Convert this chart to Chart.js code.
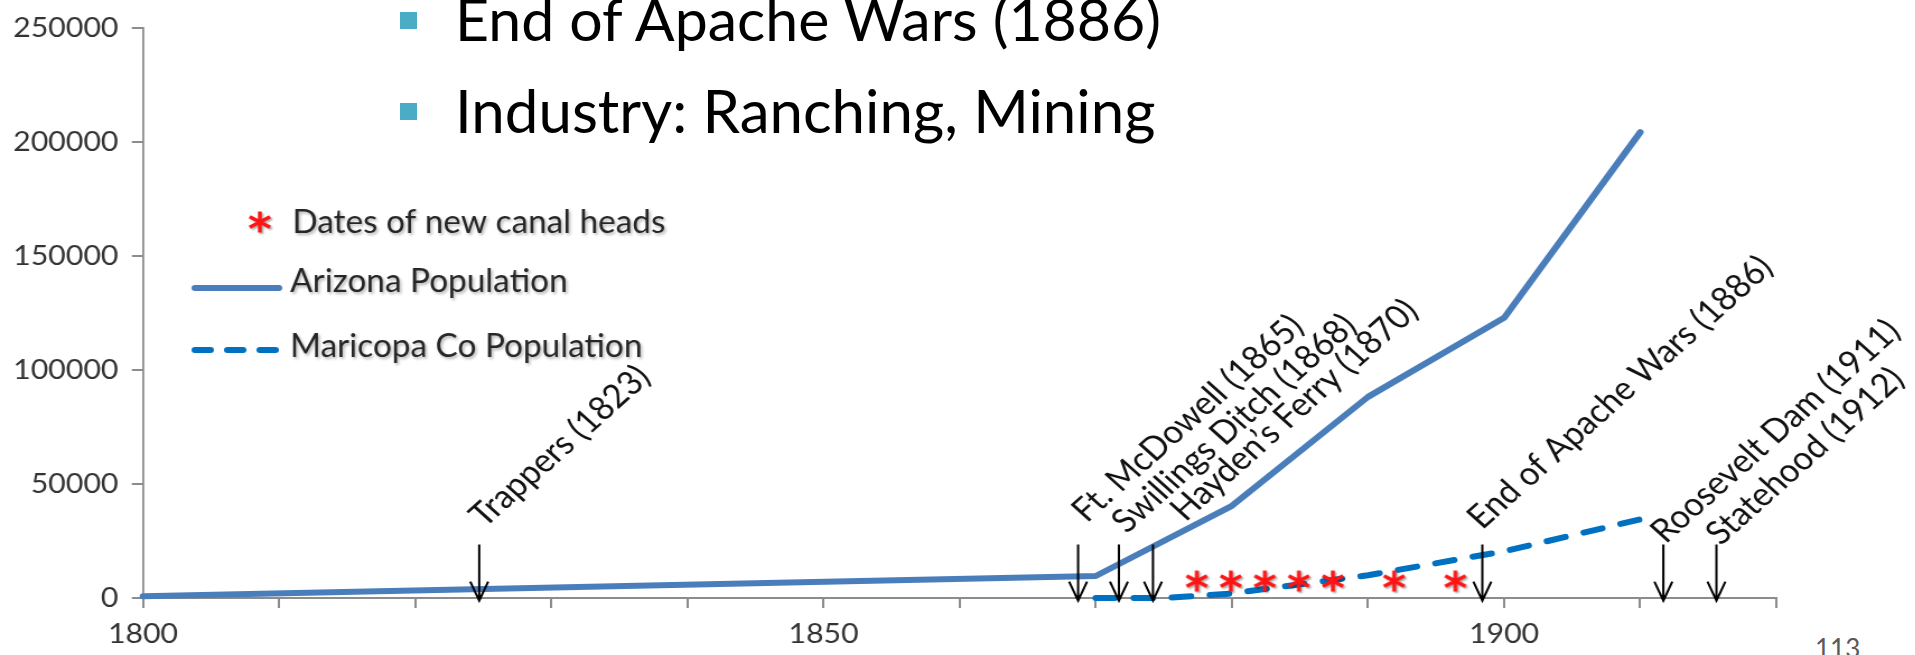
<!DOCTYPE html>
<html lang="en">
<head>
<meta charset="UTF-8">
<title>Arizona and Maricopa County Population</title>
<script src="https://cdn.jsdelivr.net/npm/chart.js"></script>
<style>
    html, body {
        margin: 0;
        padding: 0;
        background: #fff;
        overflow: hidden;
    }
    body {
        position: relative;
        width: 1915px;
        height: 655px;
        font-family: Lato, 'Open Sans', sans-serif;
    }
    /* the chart picture is widened a little, like a pasted image */
    .stretch {
        position: absolute;
        left: 0;
        top: 0;
        width: 1710px;
        height: 655px;
        transform: scaleX(1.12);
        transform-origin: 0 0;
    }
    .bullet {
        position: absolute;
        left: 455px;
        font-size: 60px;
        line-height: 60px;
        color: #000;
        white-space: nowrap;
        z-index: 2;
    }
    .bullet::before {
        content: '';
        position: absolute;
        left: -55px;
        top: 23px;
        width: 17px;
        height: 17px;
        background: #4bacc6;
    }
    .page {
        position: absolute;
        left: 1815px;
        top: 635px;
        font-size: 26px;
        line-height: 26px;
        color: #595959;
    }
</style>
</head>
<body>
    <div class="bullet" style="top:-11px; font-size:59px">End of Apache Wars (1886)</div>
    <div class="bullet" style="top:80px">Industry: Ranching, Mining</div>
    <div class="page">113</div>
    <div class="stretch"><canvas id="popChart"></canvas></div>
<script>
    // population figures
    const azYears = [1800, 1870, 1880, 1890, 1900, 1910];
    const azPop = [800, 9658, 40440, 88243, 122931, 204354];
    const mcYears = [1870, 1875, 1880, 1890, 1900, 1910];
    const mcPop = [0, 0, 2000, 10000, 20500, 34500];

    // new canal heads, all shown at one height
    const canalYears = [1877.5, 1880, 1882.5, 1885, 1887.5, 1892, 1896.5];
    const canalLevel = 7000;

    // events marked with arrows along the time axis
    const eventNames = ['Trappers (1823)', 'Ft. McDowell (1865)', 'Swillings Ditch (1868)',
        'Hayden\u2019s Ferry (1870)', 'End of Apache Wars (1886)', 'Roosevelt Dam (1911)', 'Statehood (1912)'];
    const eventAt = [1824.7, 1868.7, 1871.7, 1874.2, 1898.4, 1911.7, 1915.6];

    const xLabelYears = [1800, 1850, 1900];

    // hand placement of each caption relative to its arrow (px)
    const captionShift = [[0, -6], [3, -11], [2, 0], [24, -12], [-5, -4], [-3, 10], [-1, 12]];

    Chart.defaults.font.family = 'Lato';

    function makeAsterisk() {
        const c = document.createElement('canvas');
        c.width = 30;
        c.height = 30;
        const g = c.getContext('2d');
        g.strokeStyle = '#ff1414';
        g.lineWidth = 3.4;
        g.shadowColor = 'rgba(0,0,0,0.35)';
        g.shadowBlur = 2;
        g.shadowOffsetX = 1.5;
        g.shadowOffsetY = 1.5;
        const cx = 14, cy = 14, r = 10.5;
        g.beginPath();
        [90, 30, -30].forEach(a => {
            const t = a * Math.PI / 180;
            g.moveTo(cx - r * Math.cos(t), cy - r * Math.sin(t));
            g.lineTo(cx + r * Math.cos(t), cy + r * Math.sin(t));
        });
        g.stroke();
        return c;
    }
    const asterisk = makeAsterisk();

    const extras = {
        id: 'extras',
        afterDatasetsDraw(chart) {
            const ctx = chart.ctx;
            const xs = chart.scales.x, ys = chart.scales.y;
            const top = ys.getPixelForValue(23500);
            const tip = ys.getPixelForValue(-1200);

            // arrows and their slanted captions
            ctx.save();
            ctx.strokeStyle = '#000';
            ctx.lineWidth = 2;
            ctx.fillStyle = '#111';
            ctx.font = '33px Lato';
            eventAt.forEach((yr, i) => {
                const x = xs.getPixelForValue(yr);
                ctx.beginPath();
                ctx.moveTo(x, top);
                ctx.lineTo(x, tip);
                ctx.moveTo(x - 8, tip - 19);
                ctx.lineTo(x, tip);
                ctx.lineTo(x + 8, tip - 19);
                ctx.stroke();

                const [dx, dy] = captionShift[i];
                ctx.save();
                ctx.translate(x + 5 + dx, top - 10 + dy);
                ctx.rotate(-Math.PI / 4);
                ctx.scale(0.93, 1);
                ctx.fillText(eventNames[i], 0, 0);
                ctx.restore();
            });
            ctx.restore();

            // legend
            const ds = chart.data.datasets;
            ctx.save();
            ctx.drawImage(asterisk, 232 - 14, 222 - 14);

            ctx.lineWidth = 6;
            ctx.lineCap = 'round';
            ctx.strokeStyle = ds[1].borderColor;
            ctx.beginPath();
            ctx.moveTo(174, 288);
            ctx.lineTo(249, 288);
            ctx.stroke();

            ctx.strokeStyle = ds[2].borderColor;
            ctx.setLineDash([14, 15]);
            ctx.beginPath();
            ctx.moveTo(174, 350);
            ctx.lineTo(249, 350);
            ctx.stroke();
            ctx.setLineDash([]);

            ctx.font = '32px Lato';
            ctx.fillStyle = '#262626';
            ctx.shadowColor = 'rgba(0,0,0,0.3)';
            ctx.shadowBlur = 3;
            ctx.shadowOffsetX = 1.5;
            ctx.shadowOffsetY = 1.5;
            [[233, 0], [292, 1], [357, 2]].forEach(([y, k]) => {
                ctx.save();
                ctx.translate(k === 0 ? 261 : 259, y);
                ctx.scale(0.93, 1);
                ctx.fillText(ds[k].label, 0, 0);
                ctx.restore();
            });
            ctx.restore();
        }
    };

    const axisGray = '#8c8c8c';

    new Chart(document.getElementById('popChart'), {
        type: 'line',
        data: {
            datasets: [
                {
                    label: 'Dates of new canal heads',
                    data: canalYears.map(x => ({ x, y: canalLevel })),
                    showLine: false,
                    pointStyle: asterisk,
                    pointRadius: 10,
                    order: 0
                },
                {
                    label: 'Arizona Population',
                    data: azYears.map((x, i) => ({ x, y: azPop[i] })),
                    borderColor: '#4a7ebb',
                    borderWidth: 6,
                    borderJoinStyle: 'round',
                    borderCapStyle: 'round',
                    pointRadius: 0,
                    clip: false,
                    order: 1
                },
                {
                    label: 'Maricopa Co Population',
                    data: mcYears.map((x, i) => ({ x, y: mcPop[i] })),
                    borderColor: '#0070c0',
                    borderWidth: 6,
                    borderDash: [17, 17],
                    borderCapStyle: 'round',
                    pointRadius: 0,
                    clip: false,
                    order: 2
                }
            ]
        },
        options: {
            responsive: true,
            maintainAspectRatio: false,
            animation: false,
            layout: { padding: { top: 27, right: 124, left: 0, bottom: 0 } },
            plugins: {
                legend: { display: false },
                tooltip: { enabled: false }
            },
            scales: {
                x: {
                    type: 'linear',
                    min: 1800,
                    max: 1920,
                    afterFit(scale) { scale.height = 57; },
                    ticks: {
                        stepSize: 10,
                        autoSkip: false,
                        maxRotation: 0,
                        padding: 10,
                        color: '#333',
                        font: { size: 27 },
                        callback: v => xLabelYears.includes(v) ? String(v) : ''
                    },
                    grid: { drawOnChartArea: false, tickLength: 10, color: axisGray, lineWidth: 2 },
                    border: { color: axisGray, width: 2 }
                },
                y: {
                    min: 0,
                    max: 250000,
                    afterFit(scale) { scale.width = 127.7; },
                    ticks: {
                        stepSize: 50000,
                        padding: 12,
                        color: '#333',
                        font: { size: 27 },
                        callback: v => String(v)
                    },
                    grid: { drawOnChartArea: false, tickLength: 10, color: axisGray, lineWidth: 2 },
                    border: { color: axisGray, width: 1.8 }
                }
            }
        },
        plugins: [extras]
    });
</script>
</body>
</html>
